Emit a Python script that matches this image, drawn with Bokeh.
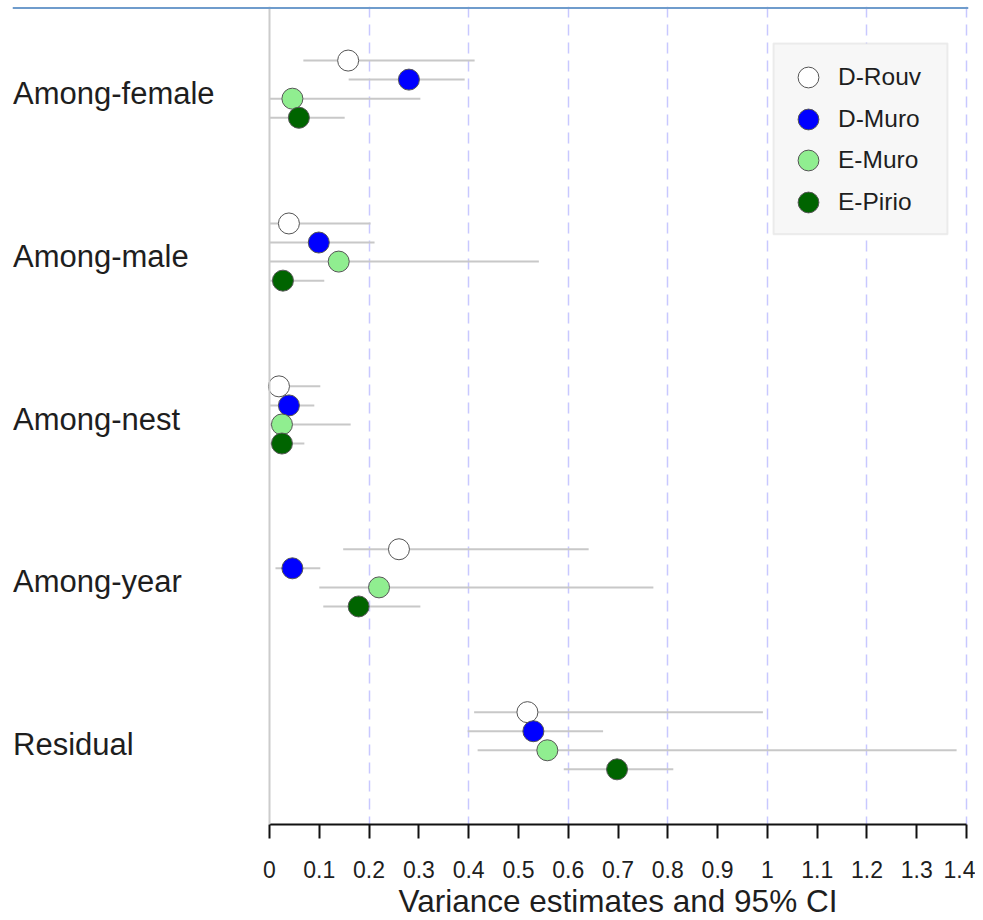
from bokeh.plotting import figure
from bokeh.models import (Range1d, FixedTicker, Span, ColumnDataSource, Legend, LegendItem,
                          BoxAnnotation, Title)
from bokeh.core.properties import value
from bokeh.embed import file_html
from bokeh.resources import INLINE

# ---- data ----
groups = ["Among-female", "Among-male", "Among-nest", "Among-year", "Residual"]
series = ["D-Rouv", "D-Muro", "E-Muro", "E-Pirio"]
colors = ["#ffffff", "#0000ff", "#90ee90", "#006400"]

est_drouv = [0.158, 0.039, 0.019, 0.260, 0.518]
est_dmuro = [0.280, 0.099, 0.039, 0.046, 0.530]
est_emuro = [0.046, 0.139, 0.025, 0.220, 0.558]
est_epirio = [0.059, 0.027, 0.025, 0.179, 0.698]

lo_drouv = [0.068, 0.0, 0.0, 0.148, 0.411]
lo_dmuro = [0.159, 0.0, 0.0, 0.012, 0.398]
lo_emuro = [0.0, 0.0, 0.0, 0.100, 0.418]
lo_epirio = [0.0, 0.0, 0.0, 0.108, 0.591]

hi_drouv = [0.412, 0.203, 0.102, 0.641, 0.991]
hi_dmuro = [0.392, 0.211, 0.090, 0.102, 0.670]
hi_emuro = [0.303, 0.541, 0.163, 0.771, 1.380]
hi_epirio = [0.151, 0.110, 0.070, 0.303, 0.811]

ticks = [0, 0.1, 0.2, 0.3, 0.4, 0.5, 0.6, 0.7, 0.8, 0.9, 1.0, 1.1, 1.2, 1.3, 1.4]
tick_labels = ["0", "0.1", "0.2", "0.3", "0.4", "0.5", "0.6", "0.7", "0.8", "0.9",
               "1", "1.1", "1.2", "1.3", "1.4"]
grid_ticks = [0.2, 0.4, 0.6, 0.8, 1.0, 1.2, 1.4]

ests = [est_drouv, est_dmuro, est_emuro, est_epirio]
los = [lo_drouv, lo_dmuro, lo_emuro, lo_epirio]
his = [hi_drouv, hi_dmuro, hi_emuro, hi_epirio]

# ---- layout ----
STEP = 0.117
FONT = "Liberation Sans"
TXT = "#1e1e1e"

FRAME_L, FRAME_T, FRAME_B = 12, 6, 825      # frame edges in canvas px
XPX = 497.9                                  # px per x unit
X0PX = 269                                   # px of x = 0
YPX = 163.1                                  # px per group
G0PX = 88.75                                 # px of first group centre


def px2x(px):
    return (px - X0PX) / XPX


def py2y(py):
    return (py - G0PX) / YPX


W, H = 975, 918
p = figure(width=W, height=H, output_backend="svg", toolbar_location=None,
           x_range=Range1d(px2x(FRAME_L), px2x(968)),
           y_range=Range1d(py2y(FRAME_B), py2y(FRAME_T)),
           y_axis_location=None, min_border_left=FRAME_L, min_border_right=W - 968,
           min_border_top=FRAME_T, min_border_bottom=H - FRAME_B)
p.outline_line_color = None
p.background_fill_color = "white"
p.border_fill_color = "white"

p.ygrid.visible = False
p.xgrid.ticker = FixedTicker(ticks=grid_ticks)
p.xgrid.grid_line_color = "#c8c8ff"
p.xgrid.grid_line_dash = "11 7"
p.xgrid.grid_line_width = 1.5

# legend box (under glyphs, over grid)
p.add_layout(BoxAnnotation(left=px2x(773), right=px2x(947), top=py2y(43), bottom=py2y(234),
                           fill_color="#f7f7f7", fill_alpha=1, line_color="#c8c8c8",
                           line_width=2, level="underlay"))

p.add_layout(Span(location=0, dimension="height", line_color="#cccccc", line_width=2))
p.add_layout(Span(location=py2y(7.5), dimension="width", line_color="#6f9ccc", line_width=2))

ax = p.xaxis[0]
ax.ticker = FixedTicker(ticks=ticks, minor_ticks=[])
ax.major_label_overrides = {t: l for t, l in zip(ticks, tick_labels)}
ax.bounds = (0, 1.4)
ax.axis_line_color = "#111111"
ax.axis_line_width = 2
ax.major_tick_line_color = "#111111"
ax.major_tick_line_width = 2
ax.major_tick_out = 14
ax.major_tick_in = 0
ax.minor_tick_line_color = None
ax.major_label_text_font = FONT
ax.major_label_text_font_size = "23px"
ax.major_label_text_color = TXT
ax.major_label_standoff = 22

p.add_layout(Title(text="Variance estimates and 95% CI", align="left", offset=398 - FRAME_L,
                   text_font=FONT, text_font_size="31.5px", text_font_style="normal",
                   text_color=TXT, standoff=0), "below")

# CI segments first
for k in range(len(series)):
    ys = [i + (k - 1.5) * STEP for i in range(len(groups))]
    src = ColumnDataSource(dict(x0=los[k], x1=his[k], y=ys))
    p.segment(x0="x0", x1="x1", y0="y", y1="y", source=src, line_color="#c8c8c8", line_width=2)

# points
pts = []
for k in range(len(series)):
    ys = [i + (k - 1.5) * STEP for i in range(len(groups))]
    src = ColumnDataSource(dict(x=ests[k], y=ys))
    pts.append(p.scatter(x="x", y="y", source=src, size=21, fill_color=colors[k],
                         line_color="#555555", line_width=1))

# group labels
lab_src = ColumnDataSource(dict(x=[px2x(FRAME_L + 0.5)] * len(groups),
                                y=[i + 0.025 for i in range(len(groups))], text=groups))
p.text(x="x", y="y", text="text", source=lab_src, text_font=value(FONT),
       text_font_size="31px", text_align="left", text_baseline="middle", text_color=TXT)

# legend: one entry per Legend so the markers can be large while rows stay tight
row_centres = [78, 120, 161, 203]
for k in range(len(series)):
    lg = Legend(items=[LegendItem(label=series[k], renderers=[pts[k]])],
                location=(782 - FRAME_L, FRAME_B - (row_centres[k] + 26)),
                glyph_width=52, glyph_height=52, padding=0, margin=0, spacing=0,
                label_standoff=4, label_height=20,
                label_text_font=FONT, label_text_font_size="24.5px", label_text_color=TXT,
                border_line_color=None, background_fill_alpha=0)
    p.add_layout(lg)

open("out.html", "w").write(file_html(p, INLINE))
